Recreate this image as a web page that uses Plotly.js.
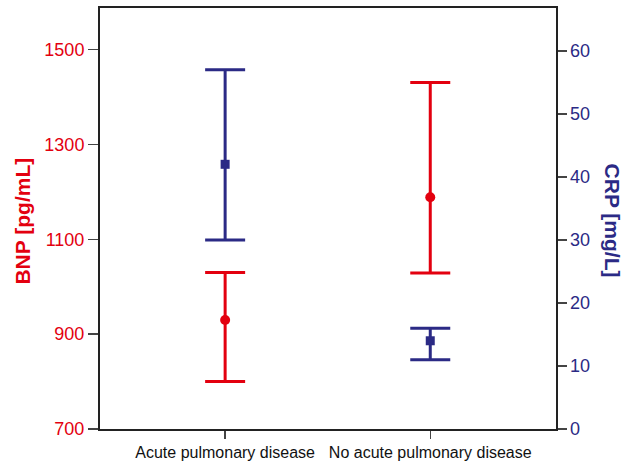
<!DOCTYPE html>
<html>
<head>
<meta charset="utf-8">
<script src="https://cdn.plot.ly/plotly-3.0.1.min.js"></script>
<style>html,body{margin:0;padding:0;background:#fff;}#chart{width:624px;height:464px;}</style>
</head>
<body>
<div id="chart"></div>
<script>
var categories = ['Acute pulmonary disease', 'No acute pulmonary disease'];
var bnpMean = [930, 1189];
var bnpUpper = [1030, 1431];
var bnpLower = [800, 1029];
var crpMean = [42.0, 14.0];
var crpUpper = [57.0, 16.0];
var crpLower = [30.0, 11.0];
var bnpTicks = [700, 900, 1100, 1300, 1500];
var crpTicks = [0, 10, 20, 30, 40, 50, 60];

var RED = '#e3000f';
var BLUE = '#2b2a85';

function diff(a, b) { return a.map(function (v, i) { return v - b[i]; }); }

var bnp = {
  x: categories, y: bnpMean, type: 'scatter', mode: 'markers', yaxis: 'y',
  name: 'BNP',
  marker: {color: RED, size: 10, symbol: 'circle'},
  error_y: {type: 'data', symmetric: false, array: diff(bnpUpper, bnpMean),
            arrayminus: diff(bnpMean, bnpLower), color: RED, thickness: 3, width: 20}
};
var crp = {
  x: categories, y: crpMean, type: 'scatter', mode: 'markers', yaxis: 'y2',
  name: 'CRP',
  marker: {color: BLUE, size: 9, symbol: 'square'},
  error_y: {type: 'data', symmetric: false, array: diff(crpUpper, crpMean),
            arrayminus: diff(crpMean, crpLower), color: BLUE, thickness: 3, width: 20}
};

var layout = {
  width: 624, height: 464,
  margin: {l: 100, r: 68, t: 8, b: 35},
  paper_bgcolor: '#ffffff', plot_bgcolor: '#ffffff',
  showlegend: false,
  font: {family: 'Liberation Sans, Arial, sans-serif'},
  xaxis: {
    type: 'category', range: [-0.61, 1.613],
    showline: true, linecolor: '#222', linewidth: 2, mirror: true,
    ticks: 'outside', ticklen: 8, tickwidth: 1.5, tickcolor: '#444',
    showgrid: false, zeroline: false,
    tickfont: {size: 16, color: '#111'}
  },
  yaxis: {
    range: [700, 1588], tickvals: bnpTicks, ticktext: bnpTicks.map(String),
    showline: true, linecolor: '#222', linewidth: 2,
    ticks: 'outside', ticklen: 10, tickwidth: 1.5, tickcolor: '#444',
    showgrid: false, zeroline: false,
    tickfont: {size: 18, color: RED}
  },
  yaxis2: {
    overlaying: 'y', side: 'right',
    range: [0, 66.8], tickvals: crpTicks, ticktext: crpTicks.map(String),
    showline: true, linecolor: '#222', linewidth: 1.5,
    ticks: 'outside', ticklen: 9, tickwidth: 1.5, tickcolor: '#444',
    showgrid: false, zeroline: false,
    tickfont: {size: 18, color: BLUE}
  },
  annotations: [{
    text: '<b>BNP [pg/mL]</b>', textangle: -90, showarrow: false,
    xref: 'paper', yref: 'paper', x: -0.169, y: 0.495,
    xanchor: 'center', yanchor: 'middle',
    font: {size: 21, color: RED}
  }, {
    text: '<b>CRP [mg/L]</b>', textangle: 90, showarrow: false,
    xref: 'paper', yref: 'paper', x: 1.1245, y: 0.4956,
    xanchor: 'center', yanchor: 'middle',
    font: {size: 21, color: BLUE}
  }]
};

Plotly.newPlot('chart', [bnp, crp], layout, {displayModeBar: false, staticPlot: true});
</script>
</body>
</html>
